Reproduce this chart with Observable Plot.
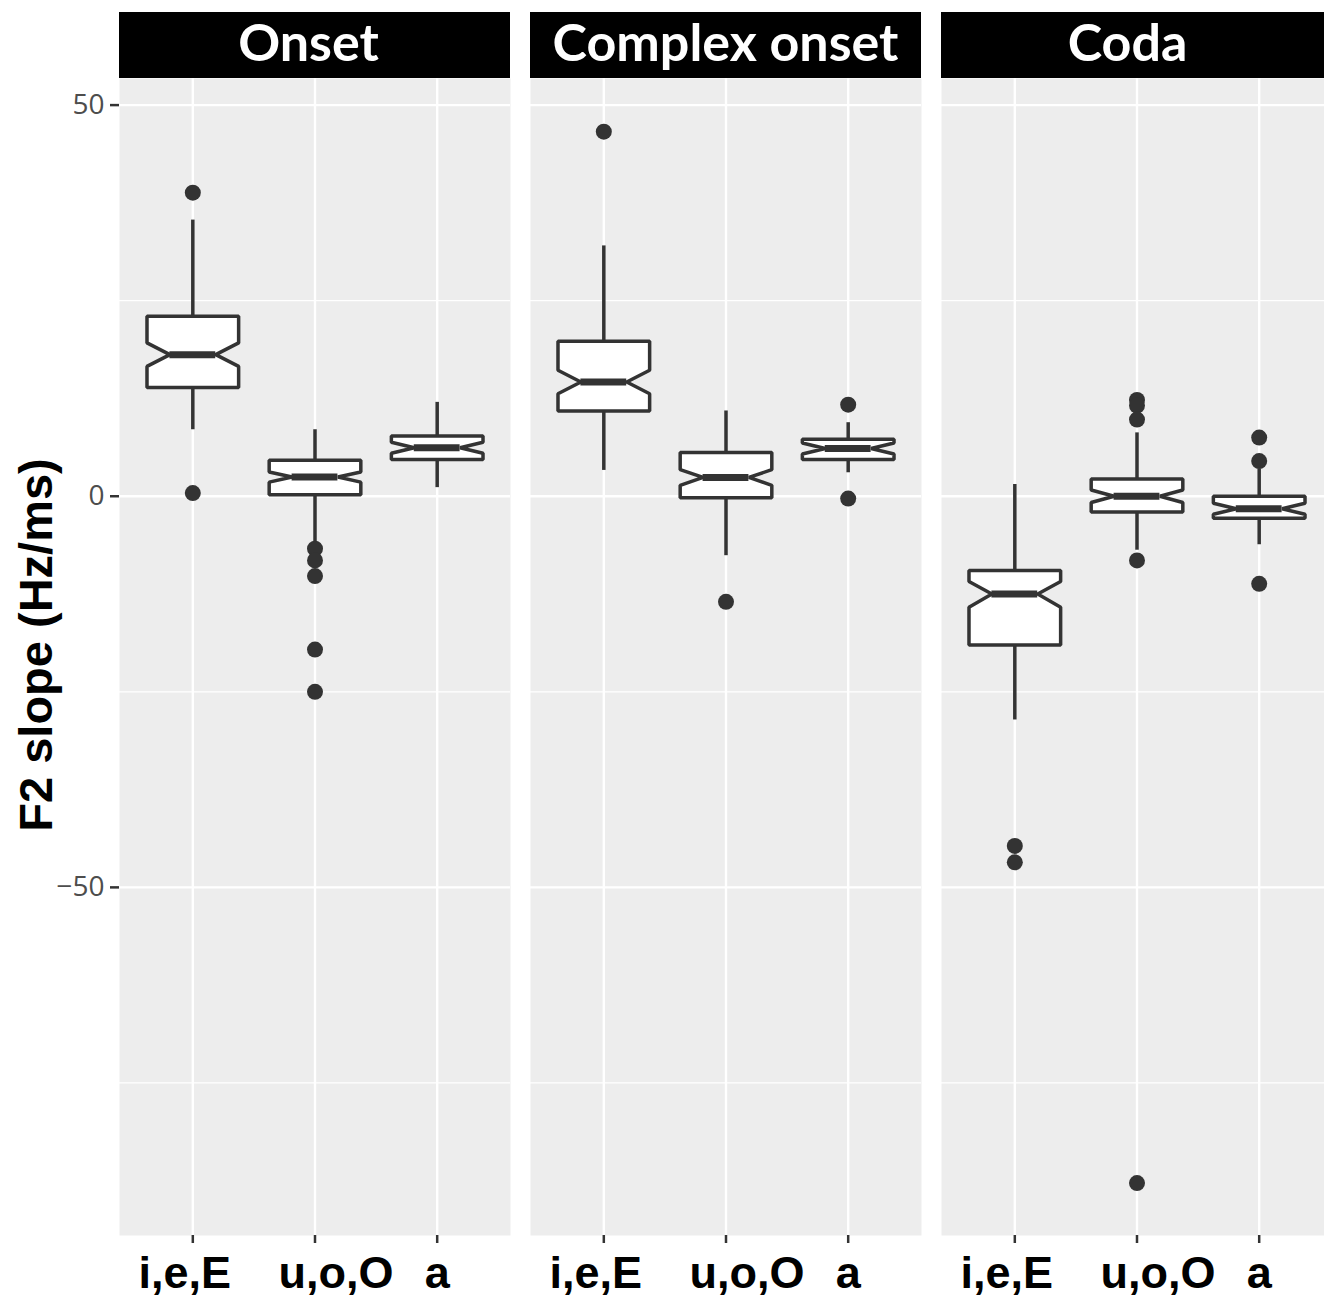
<!DOCTYPE html>
<html>
<head>
<meta charset="utf-8">
<script src="https://cdn.jsdelivr.net/npm/d3@7"></script>
<script src="https://cdn.jsdelivr.net/npm/@observablehq/plot@0.6"></script>
<style>
  html, body { margin: 0; padding: 0; background: #ffffff; overflow: hidden; }
  #wrap { width: 1324px; height: 1299px; overflow: hidden; position: relative; }
  #wrap svg { display: block; max-width: none !important; width: 1332px !important; height: 1299px !important; }
  g[aria-label="x-axis tick label"] text { font-family: "Liberation Sans", Arial, sans-serif; font-weight: 700; font-size: 45px; fill: #000; }
  g[aria-label="y-axis tick label"] text { font-family: "Open Sans", sans-serif; font-weight: 400; font-size: 28px; fill: #4d4d4d; }
  g[aria-label="x-axis tick"] path, g[aria-label="y-axis tick"] path { stroke: #333333; stroke-width: 2.5px; stroke-opacity: 1; }
</style>
</head>
<body>
<div id="wrap"></div>
<script>
// ---- data ----
const positions = ["Onset", "Complex onset", "Coda"];
const vowels = ["i,e,E", "u,o,O", "a"];

// one entry per box
const boxPosition = ["Onset", "Onset", "Onset", "Complex onset", "Complex onset", "Complex onset", "Coda", "Coda", "Coda"];
const boxVowel    = ["i,e,E", "u,o,O", "a", "i,e,E", "u,o,O", "a", "i,e,E", "u,o,O", "a"];
const lowerWhisker = [8.5, -5.9, 1.1, 3.3, -7.6, 3.0, -28.6, -6.9, -6.2];
const lowerHinge   = [13.9, 0.2, 4.7, 10.9, -0.2, 4.7, -19.0, -2.0, -2.8];
const notchLower   = [16.6, 1.8, 5.5, 13.1, 1.4, 5.4, -14.2, -0.8, -2.3];
const medians      = [18.1, 2.45, 6.2, 14.6, 2.4, 6.1, -12.5, 0.0, -1.6];
const notchUpper   = [19.6, 3.1, 6.9, 16.1, 3.4, 6.8, -10.9, 0.8, -0.9];
const upperHinge   = [23.0, 4.6, 7.7, 19.8, 5.6, 7.3, -9.5, 2.2, 0.0];
const upperWhisker = [35.3, 8.5, 12.0, 32.0, 10.9, 9.4, 1.5, 8.1, 3.5];

// outliers
const outlierPosition = ["Onset", "Onset", "Onset", "Onset", "Onset", "Onset", "Onset",
  "Complex onset", "Complex onset", "Complex onset", "Complex onset",
  "Coda", "Coda", "Coda", "Coda", "Coda", "Coda", "Coda", "Coda", "Coda", "Coda"];
const outlierVowel = ["i,e,E", "i,e,E", "u,o,O", "u,o,O", "u,o,O", "u,o,O", "u,o,O",
  "i,e,E", "u,o,O", "a", "a",
  "i,e,E", "i,e,E", "u,o,O", "u,o,O", "u,o,O", "u,o,O", "u,o,O", "a", "a", "a"];
const outlierValue = [38.8, 0.4, -6.7, -8.2, -10.2, -19.6, -25.0,
  46.6, -13.5, 11.7, -0.3,
  -44.7, -46.8, 12.3, 11.6, 9.8, -8.2, -87.8, 7.5, 4.5, -11.2];

// ---- style constants ----
const HALF = 0.375;      // half box width (x units)
const NOTCH = 0.1875;    // half width at notch tip
const INK = "#333333";

// ---- tables built from the arrays ----
const boxes = boxPosition.map((p, i) => ({
  pos: p, c: vowels.indexOf(boxVowel[i]),
  lw: lowerWhisker[i], q1: lowerHinge[i], nl: notchLower[i], med: medians[i],
  nh: notchUpper[i], q3: upperHinge[i], uw: upperWhisker[i], id: i
}));
const outline = boxes.flatMap(b => [
  [b.c - HALF, b.q3], [b.c + HALF, b.q3], [b.c + HALF, b.nh], [b.c + NOTCH, b.med],
  [b.c + HALF, b.nl], [b.c + HALF, b.q1], [b.c - HALF, b.q1], [b.c - HALF, b.nl],
  [b.c - NOTCH, b.med], [b.c - HALF, b.nh]
].map(([x, y]) => ({pos: b.pos, id: b.id, x, y})));
const outliers = outlierValue.map((v, i) => ({pos: outlierPosition[i], c: vowels.indexOf(outlierVowel[i]), v}));

const chart = Plot.plot({
  width: 1332,
  height: 1299,
  marginLeft: 119,
  marginRight: 0,
  marginTop: 78,
  marginBottom: 64,
  style: {background: "#ffffff", overflow: "visible", maxWidth: "none"},
  fx: {domain: positions, paddingInner: 20 / 411, paddingOuter: 0, axis: null, label: null},
  x: {domain: [-0.6, 2.6], label: null},
  y: {domain: [-94.5, 53.4], label: null},
  marks: [
    Plot.frame({fill: "#ededed", stroke: "none"}),
    Plot.gridY({ticks: [-75, -25, 25], stroke: "#ffffff", strokeOpacity: 1, strokeWidth: 1.2}),
    Plot.gridY({ticks: [-50, 0, 50], stroke: "#ffffff", strokeOpacity: 1, strokeWidth: 2.4}),
    Plot.gridX({ticks: [0, 1, 2], stroke: "#ffffff", strokeOpacity: 1, strokeWidth: 2.4}),
    Plot.axisY({ticks: [-50, 0, 50], tickSize: 9, tickPadding: 6, label: null}),
    Plot.axisX({ticks: [0, 1, 2], tickFormat: i => vowels[i], tickSize: 8, tickPadding: 13, label: null}),
    Plot.ruleX(boxes, {fx: "pos", x: "c", y1: "q3", y2: "uw", stroke: INK, strokeWidth: 3.5}),
    Plot.ruleX(boxes, {fx: "pos", x: "c", y1: "q1", y2: "lw", stroke: INK, strokeWidth: 3.5}),
    Plot.line(outline, {fx: "pos", x: "x", y: "y", z: "id", curve: "linear-closed", fill: "#ffffff", stroke: INK, strokeWidth: 3.5, strokeLinejoin: "miter"}),
    Plot.ruleY(boxes, {fx: "pos", y: "med", x1: d => d.c - NOTCH, x2: d => d.c + NOTCH, stroke: INK, strokeWidth: 7}),
    Plot.dot(outliers, {fx: "pos", x: "c", y: "v", r: 8, fill: INK, stroke: "none"})
  ]
});

document.getElementById("wrap").appendChild(chart);

// facet strips, drawn from the fx scale
const svg = d3.select(chart);
const fx = chart.scale("fx");
const stripShift = {"Onset": -6, "Complex onset": 0, "Coda": -9};
const strips = svg.append("g").attr("aria-label", "strips");
positions.forEach(p => {
  const x0 = fx.apply(p);
  strips.append("rect").attr("x", x0).attr("y", 12).attr("width", fx.bandwidth).attr("height", 66).attr("fill", "#000");
  strips.append("text").attr("x", x0 + fx.bandwidth / 2 + stripShift[p]).attr("y", 61)
    .attr("text-anchor", "middle").attr("fill", "#ffffff")
    .style("font-family", "Lato, 'Open Sans', sans-serif").style("font-weight", 700).style("font-size", "52px")
    .text(p);
});

// y axis title
svg.append("text")
  .attr("transform", "translate(35,645) rotate(-90)")
  .attr("text-anchor", "middle").attr("dominant-baseline", "central")
  .style("font-family", "'Liberation Sans', Arial, sans-serif").style("font-weight", 700).style("font-size", "47px")
  .attr("fill", "#000")
  .text("F2 slope (Hz/ms)");

// small horizontal nudges of the category labels as in the reference
const labelShift = {"i,e,E": -8, "u,o,O": 21, "a": 0};
svg.selectAll('g[aria-label="x-axis tick label"] text').each(function () {
  const t = this.textContent;
  if (t in labelShift) d3.select(this).attr("dx", labelShift[t]);
});
</script>
</body>
</html>
